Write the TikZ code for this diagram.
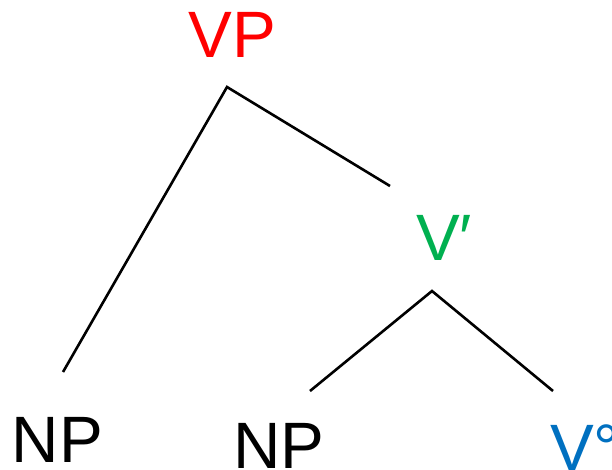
\documentclass[tikz,border=0pt]{standalone}
\usepackage{fontspec}
\setmainfont{Liberation Sans}
\definecolor{vpred}{RGB}{255,0,0}
\definecolor{vbargreen}{RGB}{0,176,80}
\definecolor{vblue}{RGB}{0,112,192}
\begin{document}
\begin{tikzpicture}[x=1pt,y=-1pt,
  lbl/.style={inner sep=0pt,outer sep=0pt,font=\fontsize{65.6}{70}\selectfont},
  branch/.style={draw=black,line width=2.6pt}]
\useasboundingbox (0,0) rectangle (612,469);
\node[lbl,text=vpred,anchor=base] (vp) at (232.5,57) {VP};
\node[lbl,text=vbargreen,anchor=base west] (vbar) at (416,260) {V′};
\node[lbl,anchor=base] (np1) at (57.5,462) {NP};
\node[lbl,anchor=base] (np2) at (279,468) {NP};
\node[lbl,text=vblue,anchor=base west] (v0) at (550,470) {V°};
\coordinate (vptop) at (227,87);
\coordinate (np1top) at (63,372);
\coordinate (vbarfoot) at (390,186);
\coordinate (vbartop) at (432,291);
\coordinate (np2top) at (310,391);
\coordinate (v0top) at (553,391);
\draw[branch] (np1top) -- (vptop) -- (vbarfoot);
\draw[branch] (np2top) -- (vbartop) -- (v0top);
\end{tikzpicture}
\end{document}
